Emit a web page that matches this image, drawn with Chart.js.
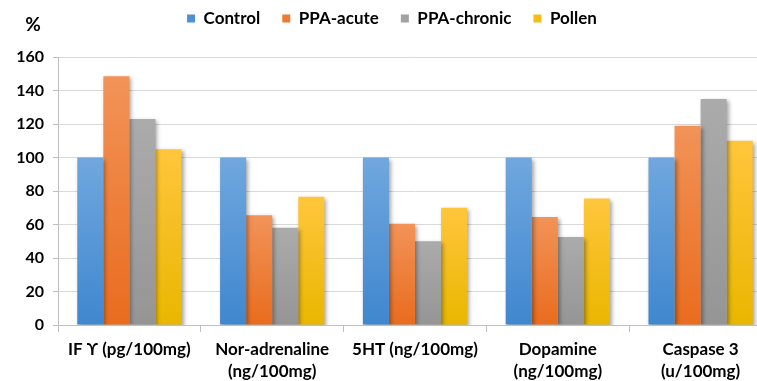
<!DOCTYPE html>
<html>
<head>
<meta charset="utf-8">
<script src="https://cdn.jsdelivr.net/npm/chart.js@4/dist/chart.umd.min.js"></script>
<style>
  html, body { margin: 0; padding: 0; background: #fff; overflow: hidden; }
  #wrap { width: 772px; height: 381px; position: relative; }
</style>
</head>
<body>
<div id="wrap"><canvas id="c" width="772" height="381"></canvas></div>
<script>
// Categories (two-line labels where the axis wraps them)
const categories = [
  ['IF \u03D2 (pg/100mg)'],
  ['Nor-adrenaline', '(ng/100mg)'],
  ['5HT (ng/100mg)'],
  ['Dopamine', '(ng/100mg)'],
  ['Caspase 3', '(u/100mg)']
];

// Series values, % of control
const control    = [100, 100, 100, 100, 100];
const ppaAcute   = [148.5, 65.5, 60.5, 64.5, 119];
const ppaChronic = [123, 58, 50, 52.5, 135];
const pollen     = [105, 76.5, 70, 75.5, 110];

const yTicks = [0, 20, 40, 60, 80, 100, 120, 140, 160];

const seriesNames = ['Control', 'PPA-acute', 'PPA-chronic', 'Pollen'];

// top / bottom gradient stops and a solid swatch per series
const palette = [
  { top: '#70a7de', bot: '#3f87cf', solid: '#4f8fd3' },
  { top: '#f29358', bot: '#e96c1e', solid: '#ee7a32' },
  { top: '#ababab', bot: '#959595', solid: '#a2a2a2' },
  { top: '#ffc63c', bot: '#e9b700', solid: '#f7bd14' }
];

const FONT = 'Lato, "Open Sans", sans-serif';
const LEGEND_PAD = 22;

function barFill(i) {
  return (ctx) => {
    const chart = ctx.chart;
    const y = chart.scales && chart.scales.y;
    if (!chart.chartArea || !y || ctx.type !== 'data') return palette[i].solid;
    const yTop = y.getPixelForValue(ctx.raw);
    const yBot = y.getPixelForValue(0);
    const g = chart.ctx.createLinearGradient(0, yTop, 0, yBot);
    g.addColorStop(0, palette[i].top);
    g.addColorStop(1, palette[i].bot);
    return g;
  };
}

const seriesData = [control, ppaAcute, ppaChronic, pollen];
const datasets = seriesData.map((d, i) => ({
  label: seriesNames[i],
  data: d,
  backgroundColor: barFill(i),
  borderWidth: 0,
  categoryPercentage: 0.73,
  barPercentage: 1.0
}));

// soft drop shadow behind the bars
const barShadow = {
  id: 'barShadow',
  beforeDatasetsDraw(chart) {
    const c = chart.ctx;
    c.save();
    c.shadowColor = 'rgba(0,0,0,0.35)';
    c.shadowBlur = 4;
    c.shadowOffsetX = 2;
    c.shadowOffsetY = 2;
  },
  afterDatasetsDraw(chart) {
    chart.ctx.restore();
  }
};

// wide spacing between legend items, row kept near the top edge
const legendGap = {
  id: 'legendGap',
  beforeUpdate(chart) {
    const lg = chart.legend;
    if (lg && !lg._gapPatched) {
      const fit = lg.fit;
      lg.fit = function () { fit.call(this); this.height += 20 - (LEGEND_PAD - 10); };
      lg._gapPatched = true;
    }
  },
  afterLayout(chart) {
    const lg = chart.legend;
    if (lg) {
      const shift = LEGEND_PAD - 10;
      lg.top -= shift;
      lg.bottom -= shift;
    }
  }
};

// "%" unit mark above the value axis
const unitMark = {
  id: 'unitMark',
  afterDraw(chart) {
    const c = chart.ctx;
    c.save();
    c.font = 'bold 19px ' + FONT;
    c.fillStyle = '#000';
    c.textAlign = 'center';
    c.textBaseline = 'middle';
    c.fillText('%', 33, 25);
    c.restore();
  }
};

new Chart(document.getElementById('c'), {
  type: 'bar',
  data: { labels: categories, datasets },
  plugins: [barShadow, legendGap, unitMark],
  options: {
    responsive: false,
    animation: false,
    layout: { padding: { left: 12, right: 0, top: 0, bottom: 0 } },
    plugins: {
      tooltip: { enabled: false },
      legend: {
        position: 'top',
        align: 'center',
        labels: {
          boxWidth: 8,
          boxHeight: 8,
          padding: LEGEND_PAD,
          color: '#000',
          font: { family: FONT, size: 17, weight: 'bold' },
          generateLabels(chart) {
            return chart.data.datasets.map((ds, i) => ({
              text: ds.label,
              fillStyle: palette[i].solid,
              strokeStyle: palette[i].solid,
              lineWidth: 0,
              datasetIndex: i,
              hidden: false
            }));
          }
        }
      }
    },
    scales: {
      x: {
        offset: true,
        afterFit(scale) { scale.height = 56; },
        grid: {
          offset: true,
          drawOnChartArea: false,
          drawTicks: true,
          tickLength: 7,
          color: '#bfbfbf'
        },
        border: { color: '#bfbfbf', width: 1 },
        ticks: {
          color: '#000',
          padding: 7,
          maxRotation: 0,
          font: { family: FONT, size: 17, weight: 'bold', lineHeight: 1.28 }
        }
      },
      y: {
        min: 0,
        max: 160,
        afterBuildTicks(scale) { scale.ticks = yTicks.map(v => ({ value: v })); },
        afterFit(scale) { scale.width = 46; },
        grid: {
          color: '#d9d9d9',
          tickColor: '#bfbfbf',
          tickLength: 5,
          lineWidth: 1
        },
        border: { color: '#bfbfbf', width: 1 },
        ticks: {
          color: '#000',
          padding: 9,
          font: { family: FONT, size: 16, weight: 'bold' }
        }
      }
    }
  }
});
</script>
</body>
</html>
